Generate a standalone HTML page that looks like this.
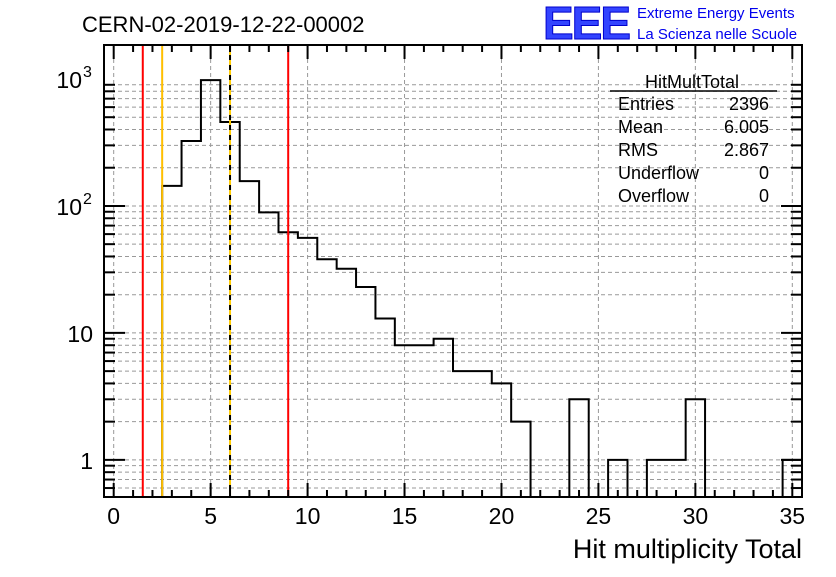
<!DOCTYPE html>
<html><head><meta charset="utf-8"><style>
body{margin:0;background:#fff;width:836px;height:572px;overflow:hidden}
svg{font-family:"Liberation Sans",Arial,sans-serif}
</style></head><body>
<svg id="c" width="836" height="572">
<text x="82" y="32" font-size="22">CERN-02-2019-12-22-00002</text>
<text x="543" y="39" font-size="46" font-weight="bold" fill="#3344ff" stroke="#0000cc" stroke-width="1" letter-spacing="-2">EEE</text>
<text x="637" y="18" font-size="15" fill="#0000ee">Extreme Energy Events</text>
<text x="637" y="39" font-size="15" fill="#0000ee">La Scienza nelle Scuole</text>
<g id="grid"></g><g id="marks"></g><g id="axes"></g>
<g font-size="18">
<text x="692" y="88" text-anchor="middle">HitMultTotal</text>
<line x1="610" x2="777" y1="91" y2="91" stroke="#000" stroke-width="1.5"/>
<text x="618" y="110">Entries</text><text x="769" y="110" text-anchor="end">2396</text>
<text x="618" y="133">Mean</text><text x="769" y="133" text-anchor="end">6.005</text>
<text x="618" y="156">RMS</text><text x="769" y="156" text-anchor="end">2.867</text>
<text x="618" y="179">Underflow</text><text x="769" y="179" text-anchor="end">0</text>
<text x="618" y="202">Overflow</text><text x="769" y="202" text-anchor="end">0</text>
</g>
<text x="802" y="558" font-size="27" text-anchor="end">Hit multiplicity Total</text>
</svg>
<script>
const binCenters=[2,3,4,5,6,7,8,9,10,11,12,13,14,15,16,17,18,19,20,21,22,23,24,25,26,27,28,29,30,31,32,33,34,35];
const counts=[0,144,325,980,458,157,89,62,56,38,32,23,13,8,8,9,5,5,4,2,0,0,3,0,1,0,1,1,3,0,0,0,0,1];
const xTicks=[0,5,10,15,20,25,30,35];
const yTickVals=[1,10,100,1000];
const yTickBase=["1","10","10","10"];
const yTickExp=["","","2","3"];
const cutLines=[{v:1.5,c:"#ff0000",n:"red-cut-low"},{v:2.5,c:"#ffbf00",n:"orange-threshold"},{v:9,c:"#ff0000",n:"red-cut-high"}];
const meanLine=[6.0];
const L=104,R=802,T=45,B=497,xmin=-0.5,xmax=35.5,ymin=Math.log10(0.51),ymax=Math.log10(1852);
const X=v=>L+(v-xmin)/(xmax-xmin)*(R-L);
const Y=v=>B-(Math.log10(v)-ymin)/(ymax-ymin)*(B-T);
const NS="http://www.w3.org/2000/svg";
function mk(p,t,a){const e=document.createElementNS(NS,t);for(const k in a)e.setAttribute(k,a[k]);(typeof p==="string"?document.getElementById(p):p).appendChild(e);return e;}
for(const t of xTicks){const e=mk("grid","line",{x1:X(t),x2:X(t),y1:T,y2:B,stroke:"#999","stroke-dasharray":"4,3"});

}
for(let d=0;d<=3;d++)for(let m=1;m<=9;m++){const v=m*Math.pow(10,d-1);if(v<0.51||v>1852)continue;const e=mk("grid","line",{x1:L,x2:R,y1:Y(v),y2:Y(v),stroke:"#999","stroke-dasharray":"4,3"});

}
let d="";let prev=0;
for(let i=0;i<binCenters.length;i++){const c=counts[i];const x0=X(binCenters[i]-0.5),x1=X(binCenters[i]+0.5);
const yp=prev>0?Y(prev):B,yc=c>0?Y(c):B;
d+=(i===0?`M${x0},${yp}`:"")+`L${x0},${yc}L${x1},${yc}`;prev=c;}
const h=mk("marks","path",{d:d,fill:"none",stroke:"#000","stroke-width":2});


for(const l of cutLines){const e=mk("marks","line",{x1:X(l.v),x2:X(l.v),y1:T,y2:B,stroke:l.c,"stroke-width":2});

}
for(const m of meanLine){const a=mk("marks","line",{x1:X(m),x2:X(m),y1:T,y2:B,stroke:"#ffcc00","stroke-width":2});


const b=mk("marks","line",{x1:X(m),x2:X(m),y1:T,y2:B,stroke:"#000","stroke-width":2,"stroke-dasharray":"5,5"});

}
const f=mk("axes","rect",{x:L,y:T,width:R-L,height:B-T,fill:"none",stroke:"#000","stroke-width":2});


for(let v=0;v<=35;v++){const len=v%5===0?14:7;
mk("axes","line",{x1:X(v),x2:X(v),y1:B,y2:B-len,stroke:"#000","stroke-width":2});
mk("axes","line",{x1:X(v),x2:X(v),y1:T,y2:T+len,stroke:"#000","stroke-width":2});}
for(const t of xTicks){const e=mk("axes","text",{x:X(t),y:524,"font-size":23,"text-anchor":"middle"});e.textContent=t;

}
for(let dd=0;dd<=3;dd++)for(let m=1;m<=9;m++){const v=m*Math.pow(10,dd-1);if(v<0.51||v>1852)continue;const len=m===1?21:11;
mk("axes","line",{x1:L,x2:L+len,y1:Y(v),y2:Y(v),stroke:"#000","stroke-width":2});
mk("axes","line",{x1:R,x2:R-len,y1:Y(v),y2:Y(v),stroke:"#000","stroke-width":2});}
yTickVals.forEach((v,i)=>{
const hasExp=yTickExp[i]!=="";
const e=mk("axes","text",{x:hasExp?82:93,y:Y(v)+9,"font-size":23,"text-anchor":"end"});e.textContent=yTickBase[i];


if(hasExp){const s=mk("axes","text",{x:83,y:Y(v)-2,"font-size":16});s.textContent=yTickExp[i];

}});
</script>
</body></html>
